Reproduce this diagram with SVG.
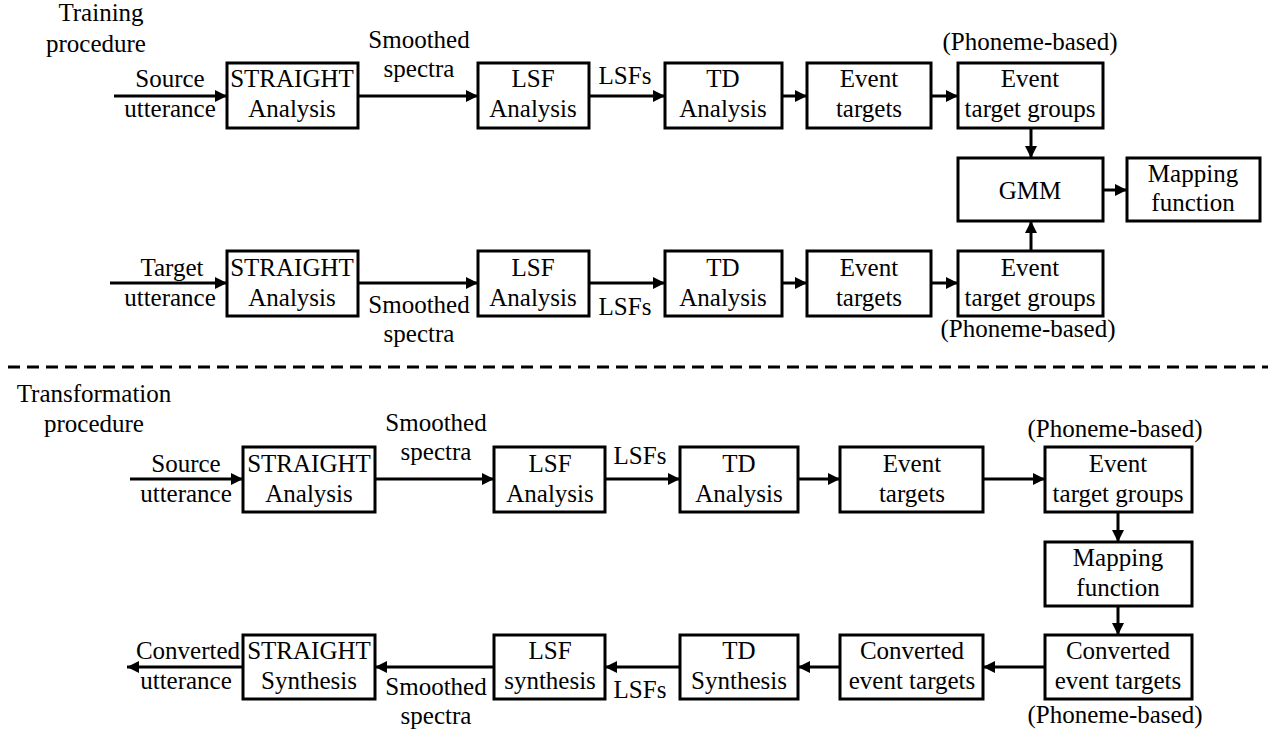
<svg xmlns="http://www.w3.org/2000/svg" width="1271" height="735" viewBox="0 0 1271 735" font-family="Liberation Serif, Times New Roman, serif">
<defs>
<marker id="ah" markerUnits="userSpaceOnUse" markerWidth="13" markerHeight="13" refX="12" refY="6" orient="auto">
<path d="M0,0 L12,6 L0,12 Z" fill="#000"/>
</marker>
<style>
text{font-size:25px;fill:#000;text-anchor:middle}
.box{fill:#fff;stroke:#000;stroke-width:3}
.ln{fill:none;stroke:#000;stroke-width:3;marker-end:url(#ah)}
.dash{fill:none;stroke:#000;stroke-width:3;stroke-dasharray:12 7}
</style>
</defs>
<rect width="1271" height="735" fill="#fff"/>

<g id="labels">
<text x="101" y="21">Training</text>
<text x="96" y="52">procedure</text>
<text x="94" y="402">Transformation</text>
<text x="94" y="432">procedure</text>
</g>

<g id="connectors">
<line class="ln" x1="114" y1="96" x2="227" y2="96"/>
<line class="ln" x1="358" y1="96" x2="478" y2="96"/>
<line class="ln" x1="589" y1="96" x2="665" y2="96"/>
<line class="ln" x1="782" y1="96" x2="807" y2="96"/>
<line class="ln" x1="931" y1="96" x2="958" y2="96"/>
<line class="ln" x1="1031" y1="128" x2="1031" y2="158"/>
<line class="ln" x1="1103" y1="190" x2="1127" y2="190"/>
<line class="ln" x1="1031" y1="251" x2="1031" y2="221"/>
<line class="ln" x1="110" y1="283" x2="227" y2="283"/>
<line class="ln" x1="358" y1="283" x2="478" y2="283"/>
<line class="ln" x1="589" y1="283" x2="665" y2="283"/>
<line class="ln" x1="782" y1="283" x2="807" y2="283"/>
<line class="ln" x1="931" y1="283" x2="958" y2="283"/>
<line class="dash" x1="8" y1="367" x2="1268" y2="367"/>
<line class="ln" x1="130" y1="479" x2="243" y2="479"/>
<line class="ln" x1="375" y1="479" x2="494" y2="479"/>
<line class="ln" x1="605" y1="479" x2="680" y2="479"/>
<line class="ln" x1="798" y1="479" x2="840" y2="479"/>
<line class="ln" x1="983" y1="479" x2="1045" y2="479"/>
<line class="ln" x1="1118" y1="512" x2="1118" y2="542"/>
<line class="ln" x1="1118" y1="606" x2="1118" y2="635"/>
<line class="ln" x1="1045" y1="667" x2="983" y2="667"/>
<line class="ln" x1="840" y1="667" x2="798" y2="667"/>
<line class="ln" x1="680" y1="667" x2="605" y2="667"/>
<line class="ln" x1="494" y1="667" x2="375" y2="667"/>
<line class="ln" x1="243" y1="667" x2="127" y2="667"/>
</g>

<g id="edge-labels">
<text x="170" y="87">Source</text>
<text x="170" y="117">utterance</text>
<text x="419" y="48">Smoothed</text>
<text x="419" y="77">spectra</text>
<text x="625" y="84">LSFs</text>
<text x="1030" y="50">(Phoneme-based)</text>
<text x="172" y="276">Target</text>
<text x="170" y="306">utterance</text>
<text x="419" y="313">Smoothed</text>
<text x="419" y="342">spectra</text>
<text x="625" y="315">LSFs</text>
<text x="1028" y="337">(Phoneme-based)</text>
<text x="186" y="472">Source</text>
<text x="186" y="502">utterance</text>
<text x="436" y="431">Smoothed</text>
<text x="436" y="460">spectra</text>
<text x="640" y="464">LSFs</text>
<text x="1115" y="437">(Phoneme-based)</text>
<text x="188" y="659">Converted</text>
<text x="186" y="689">utterance</text>
<text x="436" y="695">Smoothed</text>
<text x="436" y="724">spectra</text>
<text x="640" y="698">LSFs</text>
<text x="1115" y="723">(Phoneme-based)</text>
</g>

<g id="t-straight"><rect class="box" x="227" y="63" width="131" height="65"/><text x="292" y="87">STRAIGHT</text><text x="292" y="117">Analysis</text></g>
<g id="t-lsf"><rect class="box" x="478" y="63" width="111" height="65"/><text x="533" y="87">LSF</text><text x="533" y="117">Analysis</text></g>
<g id="t-td"><rect class="box" x="665" y="63" width="117" height="65"/><text x="723" y="87">TD</text><text x="723" y="117">Analysis</text></g>
<g id="t-et"><rect class="box" x="807" y="63" width="124" height="65"/><text x="869" y="87">Event</text><text x="869" y="117">targets</text></g>
<g id="t-etg"><rect class="box" x="958" y="63" width="145" height="65"/><text x="1030" y="87">Event</text><text x="1030" y="117">target groups</text></g>
<g id="gmm"><rect class="box" x="958" y="158" width="145" height="63"/><text x="1030" y="199">GMM</text></g>
<g id="t-map"><rect class="box" x="1127" y="158" width="133" height="63"/><text x="1193" y="182">Mapping</text><text x="1193" y="211">function</text></g>

<g id="g-straight"><rect class="box" x="227" y="251" width="131" height="65"/><text x="292" y="276">STRAIGHT</text><text x="292" y="306">Analysis</text></g>
<g id="g-lsf"><rect class="box" x="478" y="251" width="111" height="65"/><text x="533" y="276">LSF</text><text x="533" y="306">Analysis</text></g>
<g id="g-td"><rect class="box" x="665" y="251" width="117" height="65"/><text x="723" y="276">TD</text><text x="723" y="306">Analysis</text></g>
<g id="g-et"><rect class="box" x="807" y="251" width="124" height="65"/><text x="869" y="276">Event</text><text x="869" y="306">targets</text></g>
<g id="g-etg"><rect class="box" x="958" y="251" width="145" height="65"/><text x="1030" y="276">Event</text><text x="1030" y="306">target groups</text></g>

<g id="s-straight"><rect class="box" x="243" y="447" width="132" height="65"/><text x="309" y="472">STRAIGHT</text><text x="309" y="502">Analysis</text></g>
<g id="s-lsf"><rect class="box" x="494" y="447" width="111" height="65"/><text x="550" y="472">LSF</text><text x="550" y="502">Analysis</text></g>
<g id="s-td"><rect class="box" x="680" y="447" width="118" height="65"/><text x="739" y="472">TD</text><text x="739" y="502">Analysis</text></g>
<g id="s-et"><rect class="box" x="840" y="447" width="143" height="65"/><text x="912" y="472">Event</text><text x="912" y="502">targets</text></g>
<g id="s-etg"><rect class="box" x="1045" y="447" width="147" height="65"/><text x="1118" y="472">Event</text><text x="1118" y="502">target groups</text></g>
<g id="s-map"><rect class="box" x="1045" y="542" width="147" height="64"/><text x="1118" y="566">Mapping</text><text x="1118" y="596">function</text></g>

<g id="c-etg"><rect class="box" x="1045" y="635" width="147" height="64"/><text x="1118" y="659">Converted</text><text x="1118" y="689">event targets</text></g>
<g id="c-et"><rect class="box" x="840" y="635" width="143" height="64"/><text x="912" y="659">Converted</text><text x="912" y="689">event targets</text></g>
<g id="c-td"><rect class="box" x="680" y="635" width="118" height="64"/><text x="739" y="659">TD</text><text x="739" y="689">Synthesis</text></g>
<g id="c-lsf"><rect class="box" x="494" y="635" width="111" height="64"/><text x="550" y="659">LSF</text><text x="550" y="689">synthesis</text></g>
<g id="c-straight"><rect class="box" x="243" y="635" width="132" height="64"/><text x="309" y="659">STRAIGHT</text><text x="309" y="689">Synthesis</text></g>
</svg>
